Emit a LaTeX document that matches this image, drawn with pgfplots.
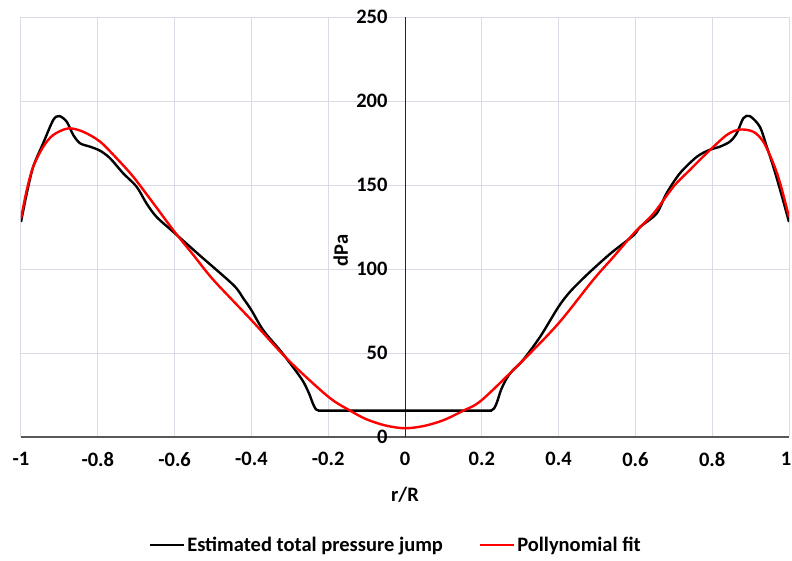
\documentclass[border=0pt]{standalone}
\usepackage{pgfplots}
\pgfplotsset{compat=1.18}
\usepackage{fontspec}
\setmainfont{Carlito}
\definecolor{gridc}{RGB}{217,220,230}
\definecolor{axc}{RGB}{89,89,89}
\begin{document}
\begin{tikzpicture}
\begin{axis}[
  scale only axis, width=768pt, height=420pt,
  xmin=-1, xmax=1, ymin=0, ymax=250,
  axis lines*=middle,
  hide obscured x ticks=false, hide obscured y ticks=false,
  x axis line style={color=axc, line width=1.6pt},
  y axis line style={color=black!85, line width=0.9pt},
  xtick={-1,-0.8,-0.6,-0.4,-0.2,0,0.2,0.4,0.6,0.8,1},
  xticklabels={-1,-0.8,-0.6,-0.4,-0.2,0,0.2,0.4,0.6,0.8,\hspace{-6pt}1},
  ytick={0,50,100,150,200,250},
  grid=major, major grid style={gridc, line width=1pt},
  major tick length=0pt,
  /pgf/number format/assume math mode=true,
  tick label style={font=\fontsize{20.5}{24}\selectfont\bfseries},
  xticklabel style={yshift=-12pt},
  yticklabel style={xshift=-14pt},
  xlabel={r/R},
  xlabel style={at={(axis cs:0,-34.5)}, anchor=center, font=\fontsize{20.5}{24}\selectfont\bfseries},
  ylabel={dPa},
  ylabel style={at={(axis cs:-0.167,111)}, anchor=center, font=\fontsize{20.5}{24}\selectfont\bfseries},
  legend style={at={(0.488,-0.257)}, anchor=center, draw=none, fill=none,
    legend columns=2, font=\fontsize{20.5}{24}\selectfont\bfseries,
    /tikz/every even column/.append style={column sep=34pt}},
  legend image code/.code={\draw[#1, line width=2.4pt] (0pt,0pt) -- (34pt,0pt);},
]
\coordinate (O) at (rel axis cs:0,0);
\addplot[black, line width=2.4pt, smooth, tension=0.5] coordinates {
(-1,128) (-0.985,145) (-0.968,161) (-0.942,175) (-0.916,188.7) (-0.9,191) (-0.881,187.7)
(-0.864,179.8) (-0.846,174.8) (-0.82,172.8) (-0.794,170.4) (-0.768,165.9) (-0.734,157)
(-0.699,149) (-0.673,139) (-0.647,131) (-0.603,122) (-0.534,108) (-0.447,90.5)
(-0.421,82.5) (-0.4,75.5) (-0.369,63.5) (-0.326,51.8) (-0.299,43.8) (-0.28,38)
(-0.265,33) (-0.25,26) (-0.24,20) (-0.232,16.5) (-0.222,15.7) (-0.21,15.7)
(0,15.7)
(0.21,15.7) (0.222,15.7) (0.232,17) (0.24,21) (0.25,28) (0.265,35) (0.28,39.5)
(0.308,46) (0.352,59.7) (0.4,77.6) (0.43,86.5) (0.473,96.4) (0.534,109) (0.595,120)
(0.612,125) (0.655,133) (0.681,145) (0.716,157) (0.76,166.8) (0.794,171) (0.82,172.8)
(0.846,175.8) (0.864,180.8) (0.881,189.7) (0.898,191) (0.924,184.7) (0.942,172.8)
(0.959,161) (0.977,147) (1,128)
};
\addlegendentry{Estimated total pressure jump}
\addplot[red, line width=2.4pt, smooth, tension=0.5] coordinates {
(-1,130) (-0.985,147) (-0.968,161) (-0.942,172.8) (-0.916,179.8) (-0.877,183.7)
(-0.838,181.7) (-0.794,175.8) (-0.751,165.9) (-0.708,155) (-0.655,139) (-0.603,123)
(-0.551,108.3) (-0.499,93.5) (-0.4,69.6) (-0.304,45.8) (-0.2,24) (-0.143,15.7)
(-0.1,10.5) (-0.05,6.8) (0,5.2) (0.05,6.6) (0.1,10) (0.152,15.7) (0.2,22)
(0.308,45.8) (0.4,67.7) (0.49,93.5) (0.542,107) (0.595,121) (0.647,133) (0.699,149)
(0.742,159) (0.786,169) (0.838,179.8) (0.872,183) (0.907,181.7) (0.933,175.8)
(0.959,163) (0.977,151) (1,131)
};
\addlegendentry{Pollynomial fit}
\end{axis}
\pgfresetboundingbox
\path[use as bounding box] (O) ++(-21pt,-123pt) rectangle ++(792pt,560pt);
\end{tikzpicture}
\end{document}
